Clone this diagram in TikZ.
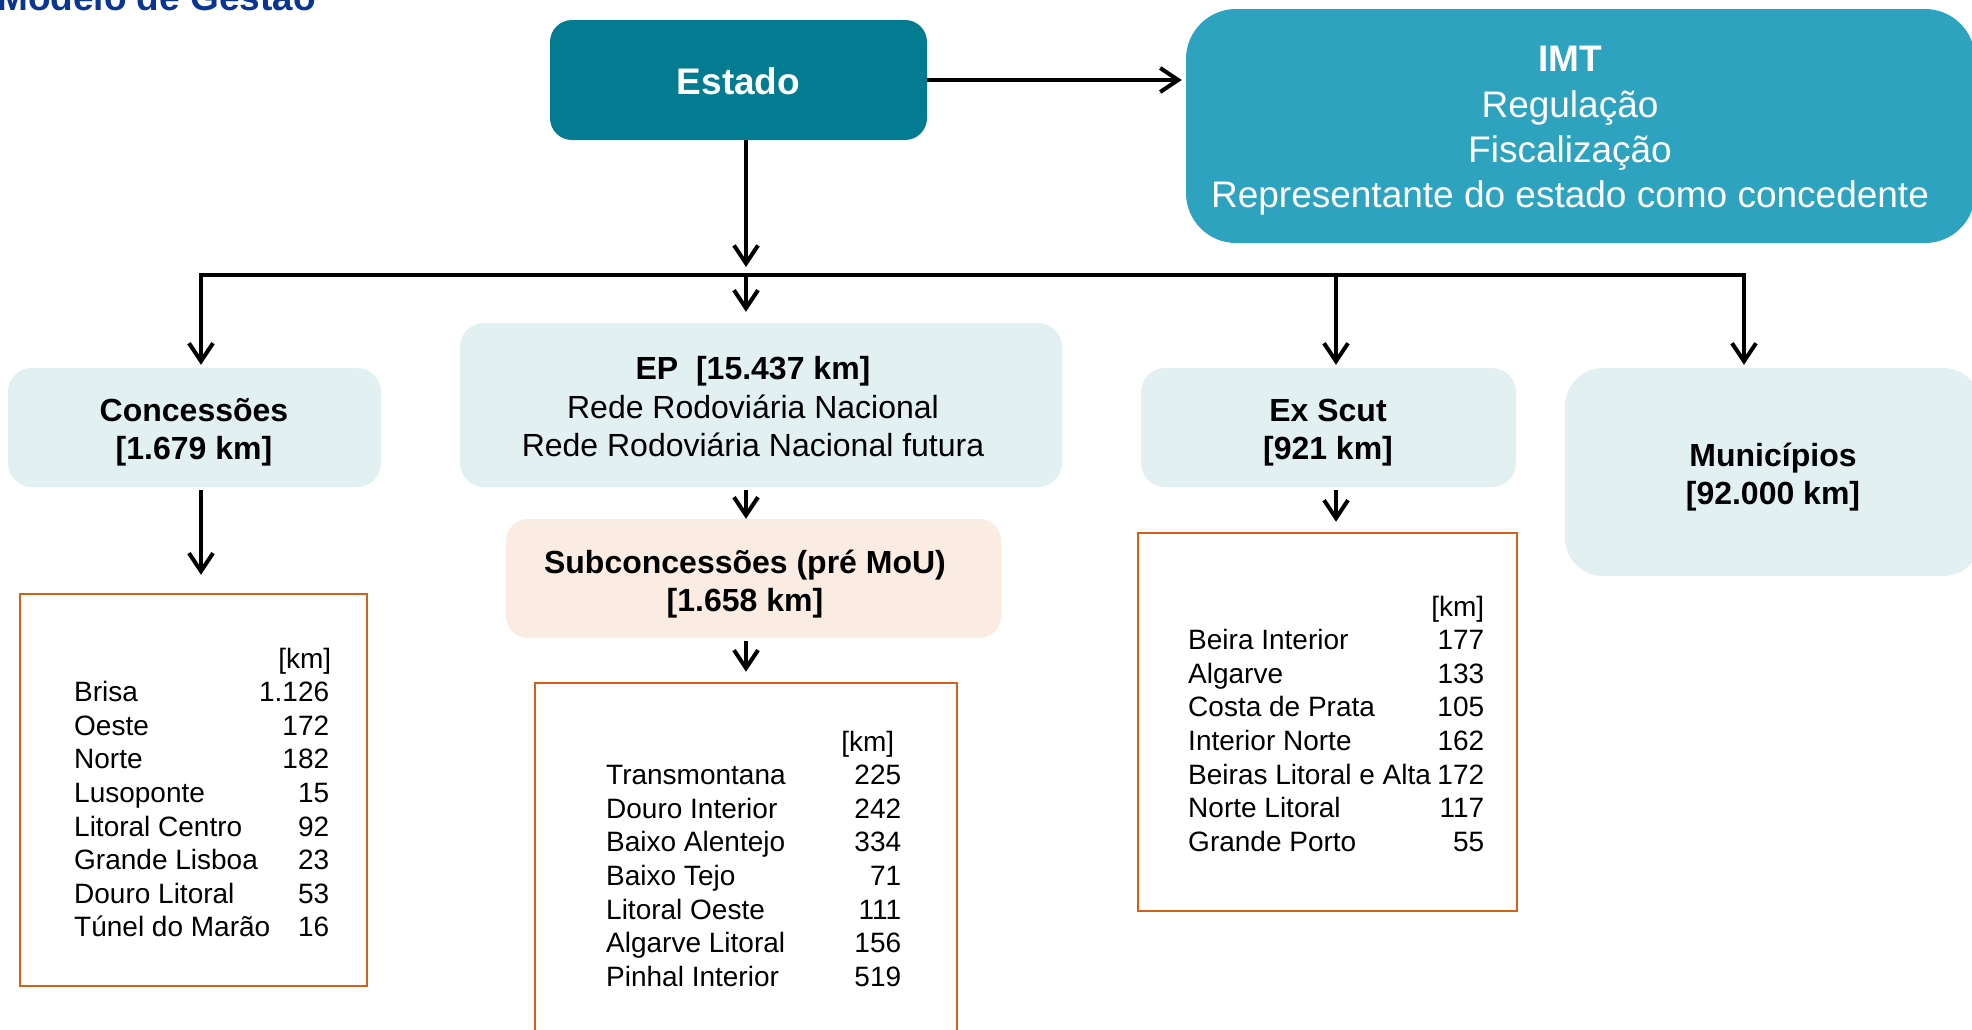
\documentclass[tikz,border=0pt]{standalone}
\usepackage{fontspec}
\setmainfont{Liberation Sans}
\usetikzlibrary{arrows.meta}
\definecolor{estadoC}{HTML}{037C91}
\definecolor{imtC}{HTML}{2DA3C0}
\definecolor{lightC}{HTML}{E2F0F1}
\definecolor{peachC}{HTML}{FAEBE3}
\definecolor{orangeC}{HTML}{D4601A}
\definecolor{titleC}{HTML}{0A3592}
\newlength\rowW
\newcommand\rk[2]{\makebox[\rowW][l]{#1\hfill #2}}
\newcommand\kmhead[1]{\makebox[\rowW][r]{[km]\hspace{#1}}}
\begin{document}
\begin{tikzpicture}[x=1pt,y=-1pt,
  arr/.style={line width=4pt, -{Straight Barb[length=18pt,width=24pt]}},
  conn/.style={line width=4pt, line cap=rect},
  box/.style={rounded corners=#1, inner sep=0pt},
  boxfont/.style={align=center, inner sep=0pt, font=\fontsize{32}{38}\bfseries\selectfont},
  listbox/.style={draw=orangeC, line width=2.5pt, inner sep=0pt},
  listtext/.style={anchor=base west, inner sep=0pt, font=\fontsize{28}{33.6}\selectfont}
]
\useasboundingbox (0,0) rectangle (1972,1029);
\clip (0,0) rectangle (1972,1029);

% title
\node[anchor=base west, inner sep=0pt, text=titleC, font=\fontsize{37}{44}\bfseries\selectfont] (title) at (-3,10) {Modelo de Gestão};

% top boxes
\node[box=22pt, fill=estadoC, minimum width=377pt, minimum height=120pt] (estado) at (738.5,80) {};
\node[inner sep=0pt, text=white, font=\fontsize{37}{44}\bfseries\selectfont] (estadotext) at (738.5,81.5) {Estado};
\node[box=50pt, fill=imtC, minimum width=789pt, minimum height=234pt] (imt) at (1580.5,126) {};
\node[align=center, inner sep=0pt, text=white, font=\fontsize{37}{45.3}\selectfont] (imttext) at (1570,131) {\textbf{IMT}\\Regulação\\Fiscalização\\Representante do estado como concedente};

% second row
\node[box=24pt, fill=lightC, minimum width=373pt, minimum height=119pt] (conc) at (194.5,427.5) {};
\node[boxfont] (conctext) at (194,432.5) {Concessões\\{[1.679 km]}};
\node[box=24pt, fill=lightC, minimum width=602pt, minimum height=164pt] (ep) at (761,405) {};
\node[align=center, inner sep=0pt, font=\fontsize{32}{38.5}\selectfont] (eptext) at (753,407) {\textbf{EP\ \ [15.437 km]}\\Rede Rodoviária Nacional\\Rede Rodoviária Nacional futura};
\node[box=24pt, fill=lightC, minimum width=375pt, minimum height=119pt] (exscut) at (1328.5,427.5) {};
\node[boxfont] (exscuttext) at (1328,432.5) {Ex Scut\\{[921 km]}};
\node[box=38pt, fill=lightC, minimum width=416pt, minimum height=208pt] (mun) at (1773,472) {};
\node[boxfont] (muntext) at (1773,477) {Municípios\\{[92.000 km]}};
\node[box=22pt, fill=peachC, minimum width=495pt, minimum height=119pt] (sub) at (753.5,578.5) {};
\node[boxfont] (subtext) at (745,584) {Subconcessões (pré MoU)\\{[1.658 km]}};

% list boxes
\node[listbox, minimum width=347pt, minimum height=392pt] (lc) at (193.5,790) {};
\node[listbox, minimum width=422pt, minimum height=370pt] (ls) at (746,868) {};
\node[listbox, minimum width=379pt, minimum height=378pt] (lx) at (1327.5,722) {};

\node[listtext] (lctext) at (74,668) {\setlength\rowW{255pt}\begin{tabular}[t]{@{}l@{}}
\kmhead{-2pt}\\
\rk{Brisa}{1.126}\\
\rk{Oeste}{172}\\
\rk{Norte}{182}\\
\rk{Lusoponte}{15}\\
\rk{Litoral Centro}{92}\\
\rk{Grande Lisboa}{23}\\
\rk{Douro Litoral}{53}\\
\rk{Túnel do Marão}{16}
\end{tabular}};

\node[listtext] (lstext) at (606,751) {\setlength\rowW{295pt}\begin{tabular}[t]{@{}l@{}}
\kmhead{7pt}\\
\rk{Transmontana}{225}\\
\rk{Douro Interior}{242}\\
\rk{Baixo Alentejo}{334}\\
\rk{Baixo Tejo}{71}\\
\rk{Litoral Oeste}{111}\\
\rk{Algarve Litoral}{156}\\
\rk{Pinhal Interior}{519}
\end{tabular}};

\node[listtext] (lxtext) at (1188,616) {\setlength\rowW{296pt}\begin{tabular}[t]{@{}l@{}}
\kmhead{0pt}\\
\rk{Beira Interior}{177}\\
\rk{Algarve}{133}\\
\rk{Costa de Prata}{105}\\
\rk{Interior Norte}{162}\\
\rk{Beiras Litoral e Alta}{172}\\
\rk{Norte Litoral}{117}\\
\rk{Grande Porto}{55}
\end{tabular}};

% connectors
\coordinate (j) at (746,275);
\coordinate (jl) at (201,275);
\coordinate (jx) at (1336,275);
\coordinate (jr) at (1744,275);

\draw[conn] (jl) -- (jr);
\draw[arr, shorten >=4pt] (estado.east) -- (estado.east -| imt.west);
\draw[arr, shorten >=8pt] (estado.south -| j) -- (j);
\draw[arr, shorten >=11pt] (j) -- (j |- ep.north);
\draw[arr, shorten >=3pt] (jl) -- (jl |- conc.north);
\draw[arr, shorten >=3pt] (jx) -- (jx |- exscut.north);
\draw[arr, shorten >=3pt] (jr) -- (jr |- mun.north);
\draw[arr, shorten <=3pt] (ep.south -| j) -- (j |- sub.north);
\draw[arr, shorten <=3pt, shorten >=10pt] (sub.south -| j) -- (j |- ls.north);
\draw[arr, shorten <=3pt, shorten >=18pt] (conc.south -| jl) -- (jl |- lc.north);
\draw[arr, shorten <=3pt, shorten >=10pt] (exscut.south -| jx) -- (jx |- lx.north);
\end{tikzpicture}
\end{document}
